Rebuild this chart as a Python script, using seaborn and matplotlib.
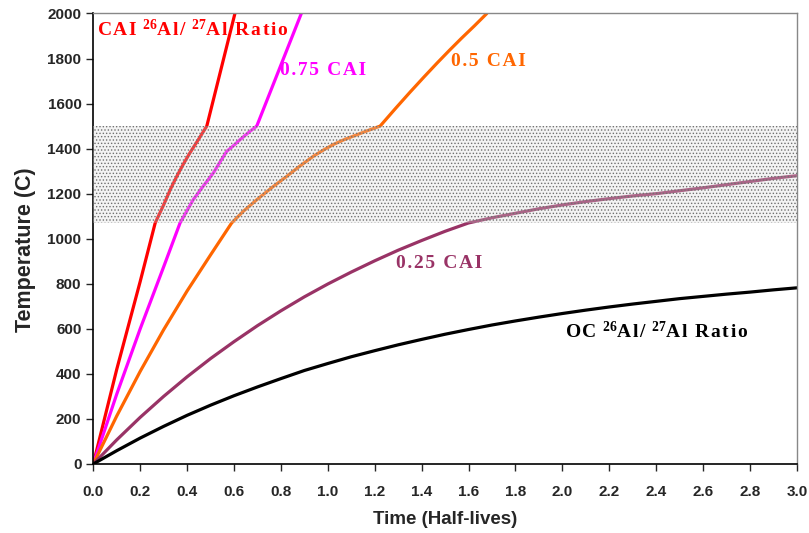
import pandas as pd
import matplotlib
matplotlib.use('Agg')
import matplotlib.pyplot as plt
import seaborn as sns

# Time in half-lives, temperature in C
t_cai = [0, 0.1, 0.2, 0.264, 0.30, 0.33, 0.356, 0.385, 0.412, 0.448, 0.484, 0.604]
T_cai = [0, 420, 810, 1070, 1150, 1222, 1277, 1333, 1381, 1440, 1500, 2000]

t_075 = [0, 0.1, 0.2, 0.3, 0.37, 0.40, 0.426, 0.47, 0.512, 0.54, 0.569, 0.60,
         0.626, 0.66, 0.697, 0.887]
T_075 = [0, 310, 600, 875, 1070, 1125, 1173, 1235, 1292, 1340, 1388, 1415,
         1440, 1470, 1500, 2000]

t_05 = [0, 0.1, 0.2, 0.3, 0.4, 0.5, 0.59, 0.64, 0.697, 0.76, 0.825, 0.88, 0.938,
        0.98, 1.023, 1.07, 1.12, 1.17, 1.223, 1.29, 1.35, 1.41, 1.466, 1.52, 1.57,
        1.625, 1.678]
T_05 = [0, 213, 411, 596, 768, 928, 1070, 1122, 1173, 1226, 1277, 1322, 1366,
        1393, 1418, 1440, 1460, 1480, 1500, 1580, 1650, 1718, 1780, 1838, 1890,
        1945, 2000]

t_025 = [0, 0.1, 0.2, 0.3, 0.4, 0.5, 0.6, 0.7, 0.8, 0.9, 1.0, 1.1, 1.2, 1.3, 1.4,
         1.5, 1.6, 1.7, 1.8, 1.9, 2.0, 2.1, 2.2, 2.3, 2.4, 2.5, 2.6, 2.7, 2.8, 2.9, 3.0]
T_025 = [0, 107, 207, 300, 387, 468, 543, 614, 680, 742, 799, 852, 902, 949, 992,
         1033, 1070, 1093, 1113, 1133, 1150, 1165, 1178, 1190, 1200, 1213, 1226,
         1240, 1254, 1268, 1280]

t_oc = [0, 0.1, 0.2, 0.3, 0.4, 0.5, 0.6, 0.7, 0.8, 0.9, 1.0, 1.1, 1.2, 1.3, 1.4,
        1.5, 1.6, 1.7, 1.8, 1.9, 2.0, 2.1, 2.2, 2.3, 2.4, 2.5, 2.6, 2.7, 2.8, 2.9, 3.0]
T_oc = [0, 59, 115, 167, 216, 261, 303, 342, 379, 415, 446, 476, 503, 529, 553,
        576, 597, 617, 635, 652, 668, 683, 697, 710, 722, 734, 744, 754, 763, 773, 782]

# melting range shown as stippled band
band_low = 1070
band_high = 1500

series = [
    ('CAI', t_cai, T_cai, '#ff0000'),
    ('0.75 CAI', t_075, T_075, '#ff00ff'),
    ('0.5 CAI', t_05, T_05, '#ff6600'),
    ('0.25 CAI', t_025, T_025, '#993366'),
    ('OC', t_oc, T_oc, '#000000'),
]

sns.set_style('ticks')
plt.rcParams['font.family'] = ['Liberation Sans', 'DejaVu Sans']
plt.rcParams['mathtext.fontset'] = 'custom'
plt.rcParams['mathtext.rm'] = 'Liberation Serif'
plt.rcParams['mathtext.bf'] = 'Liberation Serif:bold'
plt.rcParams['mathtext.default'] = 'bf'
plt.rcParams['hatch.linewidth'] = 0.6
plt.rcParams['hatch.color'] = '#707070'

fig, ax = plt.subplots(figsize=(8.09, 5.33), dpi=100)
fig.subplots_adjust(left=0.1153, right=0.985, top=0.9747, bottom=0.1295)

for name, t, T, col in series:
    df = pd.DataFrame({'t': t, 'T': T})
    sns.lineplot(data=df, x='t', y='T', color=col, linewidth=2.3, ax=ax,
                 sort=False, estimator=None, zorder=2)

ax.axhspan(band_low, band_high, facecolor=(0.85, 0.85, 0.85, 0.3), hatch='.....',
           edgecolor='#707070', linewidth=0, zorder=3)

ax.set_xlim(0, 3.0)
ax.set_ylim(0, 2000)
ax.set_xticks([i * 0.2 for i in range(16)])
ax.set_xticklabels(['%.1f' % (i * 0.2) for i in range(16)])
ax.set_yticks(range(0, 2001, 200))
ax.tick_params(axis='both', labelsize=11, length=5, width=1, direction='out')
for lab in ax.get_xticklabels() + ax.get_yticklabels():
    lab.set_fontweight('bold')
ax.tick_params(axis='x', pad=10)

ax.set_xlabel('Time (Half-lives)', fontsize=13.5, fontweight='bold', labelpad=9)
ax.set_ylabel('Temperature (C)', fontsize=15.5, fontweight='bold', labelpad=5)
ax.yaxis.set_label_coords(-0.082, 0.475)

for side in ['left', 'bottom']:
    ax.spines[side].set_color('black')
    ax.spines[side].set_linewidth(1.2)
for side in ['top', 'right']:
    ax.spines[side].set_visible(True)
    ax.spines[side].set_color('#888888')
    ax.spines[side].set_linewidth(1.0)

hs = '\u200a'


def spaced(s):
    return hs.join(s)


serif = {'family': ['Liberation Serif', 'DejaVu Serif'], 'fontweight': 'bold', 'fontsize': 14}
ax.text(0.016, 1931, spaced('CAI ') + '$^{26}$' + spaced('Al/ ') + '$^{27}$' + spaced('Al Ratio'),
        color='#ff0000', va='center', ha='left', **serif)
ax.text(0.796, 1746, spaced('0.75 CAI'), color='#ff00ff', va='center', ha='left', **serif)
ax.text(1.525, 1787, spaced('0.5 CAI'), color='#ff6600', va='center', ha='left', **serif)
ax.text(1.29, 891, spaced('0.25 CAI'), color='#993366', va='center', ha='left', **serif)
ax.text(2.01, 590, spaced('OC ') + '$^{26}$' + spaced('Al/ ') + '$^{27}$' + spaced('Al Ratio'),
        color='#000000', va='center', ha='left', **serif)

fig.savefig('out.png', dpi=100, facecolor='white')
